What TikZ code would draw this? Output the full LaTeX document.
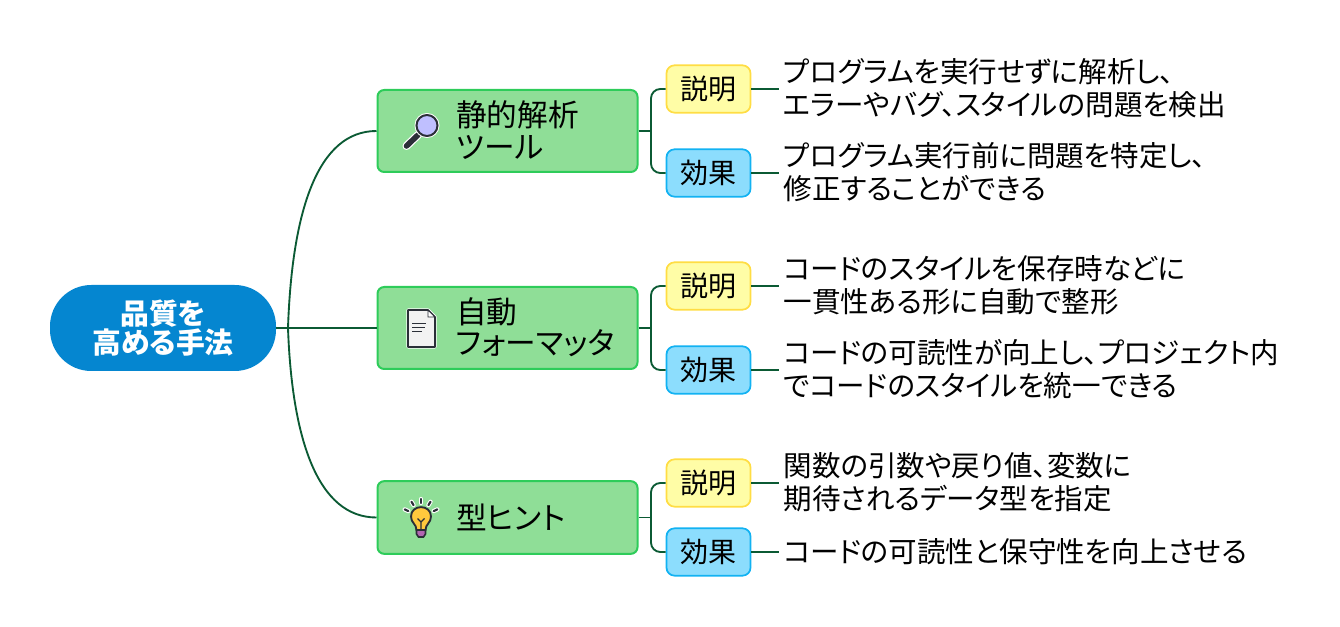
\documentclass[tikz,border=0pt]{standalone}
\usepackage{fontspec}
\setmainfont[RawFeature=+palt]{Noto Sans CJK JP}
\definecolor{linegreen}{HTML}{0B5A34}
\definecolor{rootblue}{HTML}{0586D0}
\definecolor{branchfill}{HTML}{8FDE97}
\definecolor{branchedge}{HTML}{2ECC5A}
\definecolor{notefill}{HTML}{FFFDA6}
\definecolor{noteedge}{HTML}{FFDD44}
\definecolor{gainfill}{HTML}{8CDDFD}
\definecolor{gainedge}{HTML}{12B2F2}
\definecolor{icondark}{HTML}{2B2F38}
\definecolor{bulbyellow}{HTML}{FFC83D}
\tikzset{
	rootnode/.style={fill=rootblue, rounded corners=31pt, minimum width=169.5pt, minimum height=64.5pt, inner sep=0pt, align=center, text=white, font=\fontsize{21.6}{22}\selectfont\bfseries},
	branchnode/.style={draw=branchedge, line width=1.5pt, fill=branchfill, rounded corners=5pt, minimum width=195pt, inner sep=0pt},
	notenode/.style={draw=noteedge, line width=1.3pt, fill=notefill, rounded corners=6pt, minimum width=63pt, minimum height=35.5pt, inner sep=0pt, font=\fontsize{21}{25}\selectfont},
	gainnode/.style={notenode, draw=gainedge, fill=gainfill},
	branchtext/.style={anchor=west, align=left, inner sep=0pt, font=\fontsize{23}{23.5}\selectfont},
	desctext/.style={anchor=west, align=left, inner sep=3.2pt, font=\fontsize{21.4}{24.7}\selectfont},
	link/.style={draw=linegreen, line width=1.4pt},
}
\begin{document}
\begin{tikzpicture}[x=0.75pt, y=-0.75pt]
	\useasboundingbox (0,0) rectangle (1340,627);

	%connectors from the root
	\coordinate (rootfork) at (288,328);

	%root and branches
	\node[rootnode] (root) at (163,328) {品質を\\高める手法};
	\node[branchnode, minimum height=61.5pt] (staticbox) at (507.5,131) {};
	\node[branchnode, minimum height=61.5pt] (formatbox) at (507.5,328) {};
	\node[branchnode, minimum height=54.5pt] (hintbox) at (507.5,517.5) {};
	\node[branchtext] (statictext) at (456,130) {静的解析\\ツール};
	\node[branchtext] (formattext) at (456,327.5) {自動\\フォーマッタ};
	\node[branchtext] (hinttext) at (456,517) {型ヒント};

	%labels of each branch
	\node[notenode] (note1) at (708.5,89) {説明};
	\node[gainnode] (gain1) at (708.5,173) {効果};
	\node[notenode] (note2) at (708.5,286) {説明};
	\node[gainnode] (gain2) at (708.5,370) {効果};
	\node[notenode] (note3) at (708.5,483) {説明};
	\node[gainnode] (gain3) at (708.5,552) {効果};

	%descriptions
	\node[desctext] (desc1) at (779,88) {プログラムを実行せずに解析し、\\エラーやバグ、スタイルの問題を検出};
	\node[desctext] (desc2) at (779,172) {プログラム実行前に問題を特定し、\\修正することができる};
	\node[desctext] (desc3) at (779,285) {コードのスタイルを保存時などに\\一貫性ある形に自動で整形};
	\node[desctext] (desc4) at (779,369) {コードの可読性が向上し、プロジェクト内\\でコードのスタイルを統一できる};
	\node[desctext] (desc5) at (779,482) {関数の引数や戻り値、変数に\\期待されるデータ型を指定};
	\node[desctext] (desc6) at (779,552) {コードの可読性と保守性を向上させる};

	\draw[link] (root.east) -- (formatbox.west);
	\draw[link] (rootfork) .. controls (292,210) and (318,131) .. (staticbox.west);
	\draw[link] (rootfork) .. controls (292,440) and (318,517.5) .. (hintbox.west);

	%connectors from the branches
	\coordinate (fork1) at (651,131);
	\coordinate (fork2) at (651,328);
	\coordinate (fork3) at (651,517.5);
	\draw[link] (staticbox.east) -- (fork1);
	\draw[link] (formatbox.east) -- (fork2);
	\draw[link] (hintbox.east) -- (fork3);
	\draw[link, rounded corners=7pt] (note1.west) -| (fork1) |- (gain1.west);
	\draw[link, rounded corners=7pt] (note2.west) -| (fork2) |- (gain2.west);
	\draw[link, rounded corners=7pt] (note3.west) -| (fork3) |- (gain3.west);

	%connectors to the descriptions
	\draw[link] (note1.east) -- (note1.east -| desc1.west);
	\draw[link] (gain1.east) -- (gain1.east -| desc2.west);
	\draw[link] (note2.east) -- (note2.east -| desc3.west);
	\draw[link] (gain2.east) -- (gain2.east -| desc4.west);
	\draw[link] (note3.east) -- (note3.east -| desc5.west);
	\draw[link] (gain3.east) -- (desc6.west);

	%magnifier icon
	\draw[white, line width=6pt, line cap=round] (418,135) -- (406.5,146);
	\draw[icondark, line width=4.2pt, line cap=round] (418,135) -- (406.5,146);
	\fill[white] (427,125.5) circle (12.5);
	\draw[icondark, fill=blue!25!white, line width=1.5pt] (427,125.5) circle (10.5);

	%document icon
	\draw[white, line width=2.4pt, line join=round] (408,310) -- (428,310) -- (435,317) -- (435,347) -- (408,347) -- cycle;
	\draw[icondark, fill=gray!10!white, line width=1.2pt, line join=round] (408,310) -- (428,310) -- (435,317) -- (435,347) -- (408,347) -- cycle;
	\draw[icondark, fill=white, line width=0.6pt] (428,310) -- (428,317) -- (435,317) -- cycle;
	\draw[icondark, line width=0.8pt] (412,323.5) -- (426,323.5);
	\draw[icondark, line width=0.8pt] (412,327.5) -- (425,327.5);
	\draw[icondark, line width=0.8pt] (412,331.5) -- (422,331.5);

	%bulb icon
	\draw[icondark, fill=bulbyellow, line width=1.4pt] (416.5,530) .. controls (416.5,524) and (411,523) .. (411,516.5) .. controls (411,504) and (431,504) .. (431,516.5) .. controls (431,523) and (425.5,524) .. (425.5,530) -- cycle;
	\draw[icondark, fill=violet!60!white, line width=1.2pt] (416.5,530) -- (425.5,530) -- (425.5,534) -- (423.5,537) -- (418.5,537) -- (416.5,534) -- cycle;
	\draw[icondark, line width=1pt] (421,530) -- (421,522) -- (417.5,518.5);
	\draw[icondark, line width=1pt] (421,522) -- (424.5,518.5);
	\foreach \a in {-155,-122,-90,-58,-25} {
		\draw[white, line width=3.2pt, line cap=round] (421,517) ++(\a:14) -- ++(\a:4);
		\draw[icondark, line width=1.6pt, line cap=round] (421,517) ++(\a:14) -- ++(\a:4);
	}
\end{tikzpicture}
\end{document}
